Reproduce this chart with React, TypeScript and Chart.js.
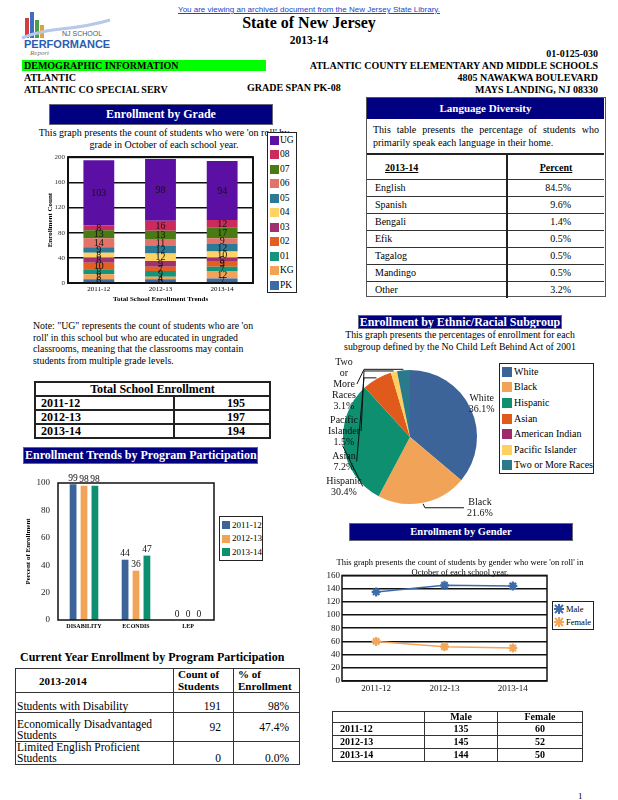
import React, { useEffect, useRef } from 'react';
import { Chart, registerables } from 'chart.js';

Chart.register(...registerables);

const SERIF = '"Liberation Serif", "Times New Roman", Times, serif';
const SANS = '"Liberation Sans", Arial, sans-serif';
Chart.defaults.font.family = SERIF;

// ---------------- data ----------------
const schoolYears = ['2011-12', '2012-13', '2013-14'];
const gradeLabels = ['PK', 'KG', '01', '02', '03', '04', '05', '06', '07', '08', 'UG'];
const gradePK = [6, 6, 7];
const gradeKG = [8, 4, 12];
const grade01 = [8, 9, 7];
const grade02 = [10, 7, 9];
const grade03 = [8, 9, 5];
const grade04 = [8, 12, 10];
const grade05 = [9, 12, 12];
const grade06 = [14, 11, 9];
const grade07 = [13, 13, 17];
const grade08 = [8, 16, 12];
const gradeUG = [103, 98, 94];
const gradeSeries = [gradePK, gradeKG, grade01, grade02, grade03, grade04, grade05, grade06, grade07, grade08, gradeUG];
const gradeColors = ['#3D6BA8', '#F1A458', '#12957A', '#E1601F', '#A1306E', '#FFD265', '#2C7A95', '#E1736A', '#4A7A14', '#CC2A5C', '#5B0FA3'];

const totalEnrollment = [195, 197, 194];

const languageNames = ['English', 'Spanish', 'Bengali', 'Efik', 'Tagalog', 'Mandingo', 'Other'];
const languagePercents = ['84.5%', '9.6%', '1.4%', '0.5%', '0.5%', '0.5%', '3.2%'];

const ethnicGroups = ['White', 'Black', 'Hispanic', 'Asian', 'American Indian', 'Pacific Islander', 'Two or More Races'];
const ethnicPercents = [36.1, 21.6, 30.4, 7.2, 0, 1.5, 3.1];
const ethnicColors = ['#3D6499', '#F1A458', '#0E8F6F', '#E05A1C', '#9E2A6A', '#FFD060', '#2A7A8C'];

const programCategories = ['DISABILITY', 'ECONDIS', 'LEP'];
const program2011 = [99, 44, 0];
const program2012 = [98, 36, 0];
const program2013 = [98, 47, 0];
const programColors = ['#3D6499', '#F1A458', '#0E8F6F'];

const genderMale = [135, 145, 144];
const genderFemale = [60, 52, 50];
const genderColors = ['#3D6BA8', '#F2A65A'];

const currentPrograms = ['Students with Disability', 'Economically Disadvantaged Students', 'Limited English Proficient Students'];
const currentCounts = [191, 92, 0];
const currentPercents = ['98%', '47.4%', '0.0%'];

// ---------------- plugins ----------------
const boxPlugin = (w: number) => ({
  id: 'plotBox',
  afterDraw(chart: any) {
    const { ctx, chartArea: a } = chart;
    ctx.save();
    ctx.strokeStyle = '#111';
    ctx.lineWidth = w;
    ctx.strokeRect(a.left, a.top, a.right - a.left, a.bottom - a.top);
    ctx.restore();
  },
});

const segmentLabels = {
  id: 'segmentLabels',
  afterDatasetsDraw(chart: any) {
    const ctx = chart.ctx;
    ctx.save();
    ctx.font = `10px ${SERIF}`;
    ctx.fillStyle = '#111';
    ctx.textAlign = 'center';
    ctx.textBaseline = 'middle';
    chart.data.datasets.forEach((ds: any, di: number) => {
      const meta = chart.getDatasetMeta(di);
      meta.data.forEach((el: any, j: number) => {
        const v = ds.data[j];
        if (!v) return;
        const p = el.getProps(['x', 'y', 'base'], true);
        ctx.fillText(String(v), p.x, (p.y + p.base) / 2 + 0.5);
      });
    });
    ctx.restore();
  },
};

const barTopLabels = {
  id: 'barTopLabels',
  afterDatasetsDraw(chart: any) {
    const ctx = chart.ctx;
    ctx.save();
    ctx.font = `9.5px ${SERIF}`;
    ctx.fillStyle = '#111';
    ctx.textAlign = 'center';
    ctx.textBaseline = 'bottom';
    chart.data.datasets.forEach((ds: any, di: number) => {
      const meta = chart.getDatasetMeta(di);
      meta.data.forEach((el: any, j: number) => {
        const p = el.getProps(['x', 'y'], true);
        ctx.fillText(String(ds.data[j]), p.x, p.y - 1);
      });
    });
    ctx.restore();
  },
};

const pieLabels = {
  id: 'pieLabels',
  afterDatasetsDraw(chart: any) {
    const ctx = chart.ctx;
    const meta = chart.getDatasetMeta(0);
    const values = chart.data.datasets[0].data;
    const names = chart.data.labels;
    const lh = 11;
    ctx.save();
    ctx.font = `10px ${SERIF}`;
    ctx.fillStyle = '#111';
    ctx.strokeStyle = '#111';
    ctx.lineWidth = 1;
    ctx.textAlign = 'center';
    ctx.textBaseline = 'middle';
    const left: any[] = [];
    let cx = 0, cy = 0, r = 0;
    meta.data.forEach((arc: any, i: number) => {
      const v = values[i];
      cx = arc.x; cy = arc.y; r = arc.outerRadius;
      if (!v) return;
      const mid = (arc.startAngle + arc.endAngle) / 2;
      const px = arc.x + Math.cos(mid) * (arc.outerRadius + 1);
      const py = arc.y + Math.sin(mid) * (arc.outerRadius + 1);
      const lines = [...String(names[i]).split(' '), v.toFixed(1) + '%'];
      if (Math.cos(mid) >= 0) {
        if (Math.sin(mid) > 0.8) {
          const lx = px + 57, ly = py + 4;
          ctx.beginPath();
          ctx.moveTo(px, py);
          ctx.lineTo(px + 2, ly);
          ctx.lineTo(lx - 16, ly);
          ctx.stroke();
          lines.forEach((t, k) => ctx.fillText(t, lx, ly + (k - (lines.length - 1) / 2) * lh));
        } else {
          const lx = px + 10, ly = py - 4;
          lines.forEach((t, k) => ctx.fillText(t, lx, ly + (k - (lines.length - 1) / 2) * lh));
        }
      } else {
        left.push({ px, py, mid, lines });
      }
    });
    left.sort((a, b) => b.mid - a.mid);
    const colX = cx - 66;
    let yCur = cy - r - 8;
    left.forEach((lab) => {
      const n = lab.lines.length;
      const midY = yCur + ((n - 1) / 2) * lh;
      const wMax = Math.max(...lab.lines.map((t: string) => ctx.measureText(t).width));
      const ax = colX + wMax / 2 + 1;
      const elbowX = colX + 20;
      ctx.beginPath();
      ctx.moveTo(lab.px, lab.py);
      if (lab.px > elbowX) ctx.lineTo(elbowX, lab.py);
      ctx.lineTo(ax, midY);
      ctx.stroke();
      lab.lines.forEach((t: string, k: number) => ctx.fillText(t, colX, yCur + k * lh));
      yCur += n * lh + 3;
    });
    ctx.restore();
  },
};

// ---------------- configs ----------------
function gradeConfig(): any {
  return {
    type: 'bar',
    data: {
      labels: schoolYears,
      datasets: gradeSeries.map((d, i) => ({
        label: gradeLabels[i], data: d, backgroundColor: gradeColors[i], borderWidth: 0,
        categoryPercentage: 0.5, barPercentage: 1,
      })),
    },
    options: {
      responsive: false, animation: false, devicePixelRatio: 1,
      layout: { padding: { top: 7, right: 7, left: 0, bottom: 0 } },
      plugins: { legend: { display: false }, tooltip: { enabled: false } },
      scales: {
        x: {
          stacked: true, grid: { display: false, drawTicks: false }, border: { display: false },
          ticks: { font: { size: 7 }, color: '#000', padding: 2, maxRotation: 0 },
          title: { display: true, text: 'Total School Enrollment Trends', font: { size: 7, weight: 'bold' }, color: '#000', padding: { top: 0, bottom: 2 } },
          afterFit(s: any) { s.height = 22; },
        },
        y: {
          stacked: true, min: 0, max: 200,
          ticks: { stepSize: 40, font: { size: 7 }, color: '#333', padding: 3, autoSkip: false },
          grid: { color: '#111', lineWidth: 1.5, drawTicks: false },
          border: { display: false },
          title: { display: true, text: 'Enrollment Count', font: { size: 7, weight: 'bold' }, color: '#000', padding: { top: 6, bottom: 0 } },
          afterFit(s: any) { s.width = 28; },
        },
      },
    },
    plugins: [segmentLabels, boxPlugin(2)],
  };
}

function programConfig(): any {
  const years = [program2011, program2012, program2013];
  return {
    type: 'bar',
    data: {
      labels: programCategories,
      datasets: years.map((d, i) => ({
        label: schoolYears[i], data: d, backgroundColor: programColors[i], borderWidth: 0,
        categoryPercentage: 0.63, barPercentage: 0.62,
      })),
    },
    options: {
      responsive: false, animation: false, devicePixelRatio: 1,
      layout: { padding: { top: 18, right: 11, left: 0, bottom: 0 } },
      plugins: { legend: { display: false }, tooltip: { enabled: false } },
      scales: {
        x: {
          grid: { display: false, drawTicks: false }, border: { display: false },
          ticks: { font: { size: 6, weight: 'bold' }, color: '#000', padding: 3, maxRotation: 0, autoSkip: false },
          afterFit(s: any) { s.height = 15; },
        },
        y: {
          min: 0, max: 100,
          ticks: { stepSize: 20, font: { size: 9 }, color: '#222', padding: 8, autoSkip: false },
          grid: { display: false, drawTicks: false }, border: { display: false },
          title: { display: true, text: 'Percent of Enrollment', font: { size: 7, weight: 'bold' }, color: '#000', padding: { top: 8.5, bottom: 0 } },
          afterFit(s: any) { s.width = 43; },
        },
      },
    },
    plugins: [barTopLabels, boxPlugin(1.5)],
  };
}

function pieConfig(): any {
  return {
    type: 'pie',
    data: {
      labels: ethnicGroups,
      datasets: [{ data: ethnicPercents, backgroundColor: ethnicColors, borderWidth: 0 }],
    },
    options: {
      responsive: false, animation: false, devicePixelRatio: 1,
      layout: { padding: { left: 48, right: 23, top: 20, bottom: 18 } },
      plugins: { legend: { display: false }, tooltip: { enabled: false } },
    },
    plugins: [pieLabels],
  };
}

function genderConfig(): any {
  const series = [genderMale, genderFemale];
  const names = ['Male', 'Female'];
  return {
    type: 'line',
    data: {
      labels: schoolYears,
      datasets: series.map((d, i) => ({
        label: names[i], data: d, borderColor: genderColors[i], backgroundColor: genderColors[i],
        borderWidth: 1.5, pointStyle: 'star', pointRadius: 4.5, pointBorderWidth: 2.2, tension: 0,
      })),
    },
    options: {
      responsive: false, animation: false, devicePixelRatio: 1,
      layout: { padding: { top: 7, right: 7, left: 0, bottom: 0 } },
      plugins: { legend: { display: false }, tooltip: { enabled: false } },
      scales: {
        x: {
          offset: true, grid: { display: false, drawTicks: false }, border: { display: false },
          ticks: { font: { size: 9 }, color: '#111', padding: 2, maxRotation: 0, autoSkip: false },
          afterFit(s: any) { s.height = 15; },
        },
        y: {
          min: 0, max: 160,
          ticks: { stepSize: 20, font: { size: 9 }, color: '#111', padding: 2, autoSkip: false },
          grid: { color: '#111', lineWidth: 1.5, drawTicks: false },
          border: { display: false },
          afterFit(s: any) { s.width = 26; },
        },
      },
    },
    plugins: [boxPlugin(1.5)],
  };
}

// ---------------- components ----------------
function ChartCanvas({ left, top, width, height, make }: any) {
  const ref = useRef<HTMLCanvasElement>(null);
  useEffect(() => {
    const chart = new Chart(ref.current as HTMLCanvasElement, make());
    return () => chart.destroy();
  }, []);
  return <canvas ref={ref} width={width} height={height} style={{ position: 'absolute', left, top, width, height }} />;
}

function T({ x, y, s = 10, b = false, a = 'left', c = '#000', f = SERIF, children, style = {} }: any) {
  const lh = Math.round(s * 1.2);
  const base: any = {
    position: 'absolute', top: y - lh / 2, fontSize: s, lineHeight: lh + 'px',
    fontWeight: b ? 'bold' : 'normal', color: c, whiteSpace: 'nowrap', fontFamily: f, ...style,
  };
  if (a === 'left') return <div style={{ ...base, left: x }}>{children}</div>;
  if (a === 'right') return <div style={{ ...base, right: 618 - x }}>{children}</div>;
  return <div style={{ ...base, left: x - 300, width: 600, textAlign: 'center' }}>{children}</div>;
}

function Navy({ x1, x2, y1, y2, s = 12, children }: any) {
  return (
    <div style={{
      position: 'absolute', left: x1, top: y1, width: x2 - x1, height: y2 - y1, background: '#000080',
      color: '#fff', fontWeight: 'bold', fontSize: s, lineHeight: (y2 - y1 - 2) + 'px', textAlign: 'center',
      fontFamily: SERIF, whiteSpace: 'nowrap', overflow: 'hidden', boxSizing: 'border-box', border: '1px solid #667',
    }}>{children}</div>
  );
}

function Legend({ left, top, width, height, itemH, padTop, sw, swX, textX, font, items, star }: any) {
  return (
    <div style={{ position: 'absolute', left, top, width, height, border: '1.5px solid #222', boxSizing: 'border-box', background: '#fff' }}>
      {items.map((it: any, i: number) => {
        const cyy = padTop + i * itemH + itemH / 2;
        return (
          <React.Fragment key={i}>
            {star ? (
              <svg style={{ position: 'absolute', left: swX, top: cyy - sw / 2 }} width={sw} height={sw}>
                <path d={`M1 1 L${sw - 1} ${sw - 1} M${sw - 1} 1 L1 ${sw - 1} M${sw / 2} 0 L${sw / 2} ${sw} M0 ${sw / 2} L${sw} ${sw / 2}`} stroke={it.color} strokeWidth={2} />
              </svg>
            ) : (
              <div style={{ position: 'absolute', left: swX, top: cyy - sw / 2, width: sw, height: sw, background: it.color }} />
            )}
            <div style={{ position: 'absolute', left: textX, top: cyy - font * 0.6, fontSize: font, lineHeight: font * 1.2 + 'px', whiteSpace: 'nowrap', fontFamily: SERIF }}>{it.label}</div>
          </React.Fragment>
        );
      })}
    </div>
  );
}

export default function App() {
  const gradeLegendItems = gradeLabels.map((l, i) => ({ label: l, color: gradeColors[i] })).reverse();
  const ethnicLegendItems = ethnicGroups.map((l, i) => ({ label: l, color: ethnicColors[i] }));
  const programLegendItems = schoolYears.map((l, i) => ({ label: l, color: programColors[i] }));
  const genderLegendItems = [{ label: 'Male', color: genderColors[0] }, { label: 'Female', color: genderColors[1] }];

  const cellB = '2px solid #222';
  const thin = '1.5px solid #333';

  return (
    <div style={{ position: 'absolute', left: 0, top: 0, width: 618, height: 800, background: '#fff', fontFamily: SERIF, overflow: 'hidden' }}>
      {/* logo */}
      <svg style={{ position: 'absolute', left: 20, top: 10 }} width={95} height={52}>
        <rect x={5} y={8} width={4} height={20} fill="#d43c3c" />
        <rect x={10} y={2} width={4} height={26} fill="#3a6fc4" />
        <rect x={15} y={10} width={4} height={18} fill="#4aa04a" />
        <rect x={20} y={15} width={4} height={13} fill="#e0a040" />
        <path d="M2 28 C 30 16, 50 22, 90 10" stroke="#b8c8e8" strokeWidth={3} fill="none" />
      </svg>
      <T x={62} y={34} s={7} f={SANS} c="#555">NJ SCHOOL</T>
      <T x={24} y={44} s={11} b f={SANS} c="#2a5db0">PERFORMANCE</T>
      <T x={30} y={53} s={7} c="#777" style={{ fontStyle: 'italic' }}>Report</T>

      {/* header link */}
      <div style={{ position: 'absolute', top: 5, left: 0, width: 618, textAlign: 'center', fontFamily: SANS, fontSize: 8, lineHeight: '10px', color: '#2244cc', textDecoration: 'underline' }}>
        You are viewing an archived document from the New Jersey State Library.
      </div>

      <T x={309} y={22} s={16} b a="center">State of New Jersey</T>
      <T x={309} y={40} s={11.5} b a="center">2013-14</T>
      <T x={598} y={54} s={10} b a="right">01-0125-030</T>

      <div style={{ position: 'absolute', left: 22, top: 60, width: 244, height: 11, background: '#00FF00' }} />
      <T x={24} y={66} s={10} b>DEMOGRAPHIC INFORMATION</T>
      <T x={598} y={66} s={10} b a="right">ATLANTIC COUNTY ELEMENTARY AND MIDDLE SCHOOLS</T>
      <T x={24} y={78} s={10} b>ATLANTIC</T>
      <T x={598} y={78} s={10} b a="right">4805 NAWAKWA BOULEVARD</T>
      <T x={24} y={90} s={10} b>ATLANTIC CO SPECIAL SERV</T>
      <T x={247} y={88} s={10} b>GRADE SPAN PK-08</T>
      <T x={598} y={90} s={10} b a="right">MAYS LANDING, NJ 08330</T>

      {/* Enrollment by grade */}
      <Navy x1={49} x2={273} y1={104} y2={125} s={12}>Enrollment by Grade</Navy>
      <T x={164} y={133} s={10} a="center">This graph presents the count of students who were 'on roll' by</T>
      <T x={164} y={145} s={10} a="center">grade in October of each school year.</T>
      <ChartCanvas left={40} top={150} width={220} height={155} make={gradeConfig} />
      <Legend left={267} top={132} width={30} height={161} itemH={14.5} padTop={0} sw={9} swX={2} textX={12} font={9.5} items={gradeLegendItems} />

      {/* Language diversity */}
      <div style={{ position: 'absolute', left: 366, top: 97, width: 240, height: 200, border: '1.5px solid #555', boxSizing: 'border-box' }}>
        <div style={{ position: 'absolute', left: 0, top: 0, width: 237, height: 21, background: '#000080', color: '#fff', fontWeight: 'bold', fontSize: 11, lineHeight: '21px', textAlign: 'center' }}>Language Diversity</div>
        <div style={{ position: 'absolute', left: 6, top: 26, width: 226, fontSize: 10, lineHeight: '12.5px', textAlign: 'justify', textAlignLast: 'justify' as any }}>This table presents the percentage of students who</div>
        <div style={{ position: 'absolute', left: 6, top: 39, fontSize: 10, lineHeight: '12.5px', whiteSpace: 'nowrap' }}>primarily speak each language in their home.</div>
        <table style={{ position: 'absolute', left: 0, top: 55, width: 237, borderCollapse: 'collapse', tableLayout: 'fixed', fontSize: 10 }}>
          <colgroup><col style={{ width: 140 }} /><col style={{ width: 97 }} /></colgroup>
          <tbody>
            <tr>
              <td style={{ borderTop: cellB, borderBottom: thin, borderRight: cellB, height: 24, padding: '0 0 0 18px', fontWeight: 'bold', textDecoration: 'underline' }}>2013-14</td>
              <td style={{ borderTop: cellB, borderBottom: thin, textAlign: 'center', padding: 0, fontWeight: 'bold', textDecoration: 'underline' }}>Percent</td>
            </tr>
            {languageNames.map((n, i) => (
              <tr key={n}>
                <td style={{ borderBottom: i < languageNames.length - 1 ? thin : 'none', borderRight: cellB, height: 16, padding: '0 0 0 8px', lineHeight: '14px' }}>{n}</td>
                <td style={{ borderBottom: i < languageNames.length - 1 ? thin : 'none', textAlign: 'right', padding: '0 33px 0 0', lineHeight: '14px' }}>{languagePercents[i]}</td>
              </tr>
            ))}
          </tbody>
        </table>
      </div>

      {/* Note */}
      <div style={{ position: 'absolute', left: 33, top: 320, fontSize: 9.8, lineHeight: '11.5px', whiteSpace: 'nowrap' }}>
        Note: "UG" represents the count of students who are 'on<br />
        roll' in this school but who are educated in ungraded<br />
        classrooms, meaning that the classrooms may contain<br />
        students from multiple grade levels.
      </div>

      {/* Total school enrollment */}
      <table style={{ position: 'absolute', left: 34, top: 381, width: 235, borderCollapse: 'collapse', tableLayout: 'fixed', fontWeight: 'bold', fontSize: 12 }}>
        <colgroup><col style={{ width: 139 }} /><col style={{ width: 96 }} /></colgroup>
        <tbody>
          <tr><td colSpan={2} style={{ border: cellB, height: 12, lineHeight: '12px', textAlign: 'center', padding: 0 }}>Total School Enrollment</td></tr>
          {schoolYears.map((y, i) => (
            <tr key={y}>
              <td style={{ border: cellB, height: 12, lineHeight: '12px', padding: '0 0 0 5px' }}>{y}</td>
              <td style={{ border: cellB, lineHeight: '12px', textAlign: 'right', padding: '0 24px 0 0' }}>{totalEnrollment[i]}</td>
            </tr>
          ))}
        </tbody>
      </table>

      {/* Program participation chart */}
      <Navy x1={23} x2={258} y1={447} y2={464} s={12}>
        <div style={{ textAlign: 'left', paddingLeft: 1 }}>Enrollment Trends by Program Participation</div>
      </Navy>
      <ChartCanvas left={15} top={465} width={210} height={170} make={programConfig} />
      <Legend left={219} top={516} width={44} height={45} itemH={13.5} padTop={1.5} sw={8} swX={2} textX={12} font={9} items={programLegendItems} />

      {/* Current year table */}
      <T x={20} y={657} s={12} b>Current Year Enrollment by Program Participation</T>
      <table style={{ position: 'absolute', left: 15, top: 668, width: 284, borderCollapse: 'collapse', tableLayout: 'fixed', fontSize: 11.5 }}>
        <colgroup><col style={{ width: 158 }} /><col style={{ width: 60 }} /><col style={{ width: 66 }} /></colgroup>
        <tbody>
          <tr>
            <td style={{ border: thin, height: 22, padding: '0 0 0 23px', fontWeight: 'bold', fontSize: 11 }}>2013-2014</td>
            <td style={{ border: thin, padding: '0 0 0 4px', fontWeight: 'bold', fontSize: 11, lineHeight: '11.5px' }}>Count of<br />Students</td>
            <td style={{ border: thin, padding: '0 0 0 4px', fontWeight: 'bold', fontSize: 11, lineHeight: '11.5px' }}>% of<br />Enrollment</td>
          </tr>
          {currentPrograms.map((p, i) => (
            <tr key={p}>
              <td style={{ border: thin, height: i === 1 ? 28 : 19, padding: '0 1px', lineHeight: '11px', verticalAlign: 'bottom' }}>{p}</td>
              <td style={{ border: thin, textAlign: 'right', padding: '0 12px 0 0', verticalAlign: i === 1 ? 'middle' : 'bottom', lineHeight: '11px' }}>{currentCounts[i]}</td>
              <td style={{ border: thin, textAlign: 'right', padding: '0 10px 0 0', verticalAlign: i === 1 ? 'middle' : 'bottom', lineHeight: '11px' }}>{currentPercents[i]}</td>
            </tr>
          ))}
        </tbody>
      </table>

      {/* Ethnic pie */}
      <Navy x1={358} x2={562} y1={315} y2={329} s={12}>Enrollment by Ethnic/Racial Subgroup</Navy>
      <T x={460} y={335} s={9.8} a="center">This graph presents the percentages of enrollment for each</T>
      <T x={460} y={347} s={9.8} a="center">subgroup defined by the No Child Left Behind Act of 2001</T>
      <ChartCanvas left={295} top={350} width={205} height={172} make={pieConfig} />
      <Legend left={499} top={363} width={95} height={111} itemH={15.6} padTop={0} sw={10} swX={2} textX={14} font={10} items={ethnicLegendItems} />

      {/* Gender */}
      <Navy x1={349} x2={573} y1={523} y2={541} s={10.5}>Enrollment by Gender</Navy>
      <T x={460} y={562} s={8.5} a="center">This graph presents the count of students by gender who were 'on roll' in</T>
      <T x={460} y={572} s={8.5} a="center">October of each school year.</T>
      <ChartCanvas left={316} top={568} width={238} height={128} make={genderConfig} />
      <Legend left={552} top={601} width={42} height={29} itemH={13} padTop={0.5} sw={10} swX={1} textX={13} font={8.5} items={genderLegendItems} star />

      <table style={{ position: 'absolute', left: 332, top: 711, width: 250, borderCollapse: 'collapse', tableLayout: 'fixed', fontSize: 10, fontWeight: 'bold' }}>
        <colgroup><col style={{ width: 92 }} /><col style={{ width: 73 }} /><col style={{ width: 85 }} /></colgroup>
        <tbody>
          <tr>
            <td style={{ border: thin, height: 10, lineHeight: '10px', padding: 0 }}></td>
            <td style={{ border: thin, lineHeight: '10px', padding: 0, textAlign: 'center' }}>Male</td>
            <td style={{ border: thin, lineHeight: '10px', padding: 0, textAlign: 'center' }}>Female</td>
          </tr>
          {schoolYears.map((y, i) => (
            <tr key={y}>
              <td style={{ border: thin, height: 12, lineHeight: '12px', padding: '0 0 0 7px' }}>{y}</td>
              <td style={{ border: thin, lineHeight: '12px', padding: 0, textAlign: 'center' }}>{genderMale[i]}</td>
              <td style={{ border: thin, lineHeight: '12px', padding: 0, textAlign: 'center' }}>{genderFemale[i]}</td>
            </tr>
          ))}
        </tbody>
      </table>

      <T x={578} y={796} s={9}>1</T>
    </div>
  );
}
